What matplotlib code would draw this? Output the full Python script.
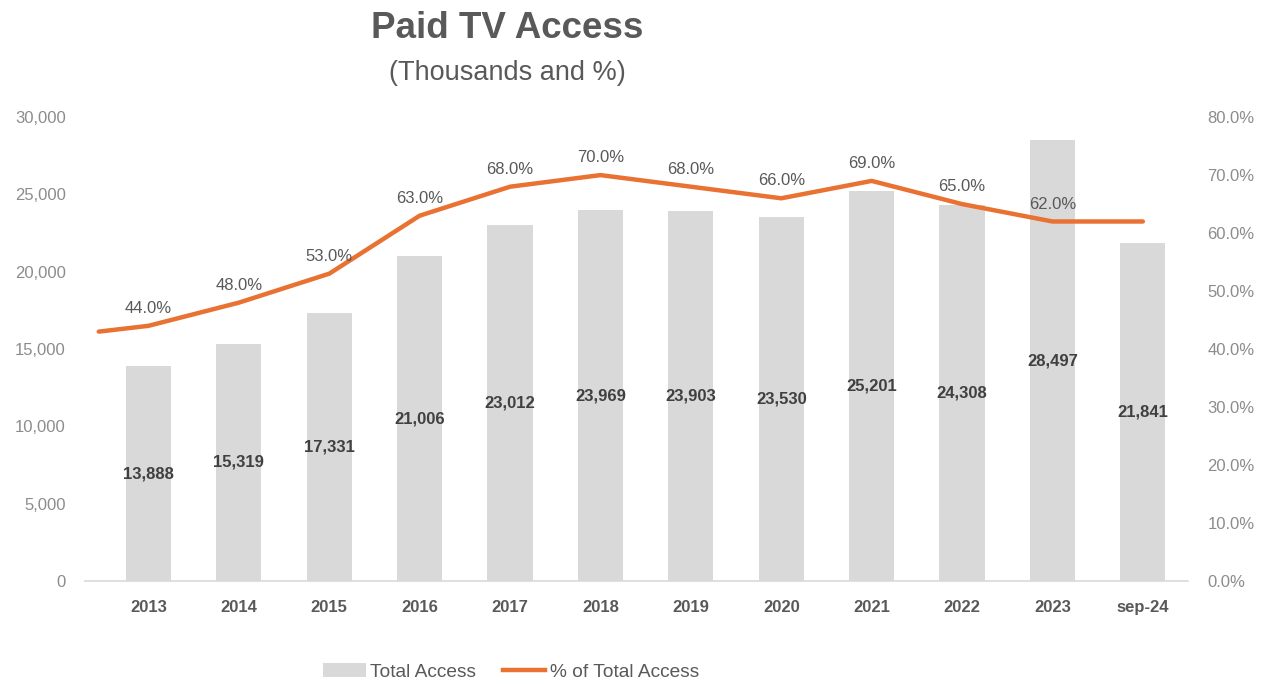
import matplotlib.pyplot as plt
from matplotlib.patches import Patch
from matplotlib.lines import Line2D
from matplotlib.ticker import FuncFormatter

# data
categories = ['2013', '2014', '2015', '2016', '2017', '2018',
              '2019', '2020', '2021', '2022', '2023', 'sep-24']
total_access = [13888, 15319, 17331, 21006, 23012, 23969,
                23903, 23530, 25201, 24308, 28497, 21841]
pct_total = [44.0, 48.0, 53.0, 63.0, 68.0, 70.0,
             68.0, 66.0, 69.0, 65.0, 62.0, 62.0]
pct_lead_in = 43.0          # line starts a little before the first category
pct_labelled = 11           # last point (sep-24) carries no label

BAR_COLOR = '#D9D9D9'
LINE_COLOR = '#E97132'
TICK_COLOR = '#8C8C8C'
DARK = '#595959'

plt.rcParams['font.family'] = ['Liberation Sans', 'DejaVu Sans']

fig = plt.figure(figsize=(12.72, 6.85), dpi=100)
ax1 = fig.add_axes([0.067, 0.152, 0.867, 0.677])

x = list(range(len(categories)))
ax1.bar(x, total_access, width=0.5, color=BAR_COLOR, zorder=1)
ax1.set_ylim(0, 30000)
ax1.set_xlim(-0.70, 11.5)
ax1.set_yticks(range(0, 30001, 5000))
ax1.yaxis.set_major_formatter(FuncFormatter(lambda v, p: f'{int(v):,}'))
ax1.set_xticks(x)
ax1.set_xticklabels(categories, fontweight='bold', color=DARK)
ax1.tick_params(axis='x', length=0, pad=14, labelsize=12)
ax1.tick_params(axis='y', length=0, pad=14, labelsize=12, labelcolor=TICK_COLOR)

for s in ['top', 'left', 'right']:
    ax1.spines[s].set_visible(False)
ax1.spines['bottom'].set_color('#D9D9D9')
ax1.spines['bottom'].set_linewidth(1.2)

# bar value labels in the middle of each bar
for xi, v in zip(x, total_access):
    ax1.text(xi, v / 2, f'{v:,}', ha='center', va='center',
             fontsize=12, fontweight='bold', color='#404040', zorder=3)

# percentage line on the secondary axis
ax2 = ax1.twinx()
ax2.set_ylim(0, 80)
ax2.set_yticks(range(0, 81, 10))
ax2.yaxis.set_major_formatter(FuncFormatter(lambda v, p: f'{v:.1f}%'))
ax2.tick_params(axis='y', length=0, pad=14, labelsize=12, labelcolor=TICK_COLOR)
for s in ['top', 'left', 'right', 'bottom']:
    ax2.spines[s].set_visible(False)

line_x = [-0.55] + x
line_y = [pct_lead_in] + pct_total
ax2.plot(line_x, line_y, color=LINE_COLOR, linewidth=3.2,
         solid_capstyle='round', solid_joinstyle='round', zorder=2)

for xi, v in zip(x[:pct_labelled], pct_total[:pct_labelled]):
    ax2.annotate(f'{v:.1f}%', (xi, v), xytext=(0, 12.5), textcoords='offset points',
                 ha='center', va='center', fontsize=12, color=DARK)

# titles
fig.text(0.399, 0.958, 'Paid TV Access', ha='center', va='center',
         fontsize=26.5, fontweight='bold', color=DARK)
fig.text(0.399, 0.893, '(Thousands and %)', ha='center', va='center',
         fontsize=19.5, color=DARK)

handles = [Patch(facecolor=BAR_COLOR, edgecolor='none'),
           Line2D([0], [0], color=LINE_COLOR, linewidth=3.2)]
fig.legend(handles, ['Total Access', '% of Total Access'], loc='center',
           bbox_to_anchor=(0.402, 0.019), ncol=2, frameon=False,
           fontsize=13.8, labelcolor=DARK, handlelength=2.2, handletextpad=0.25,
           columnspacing=1.4)

plt.savefig('out.png', dpi=100)
